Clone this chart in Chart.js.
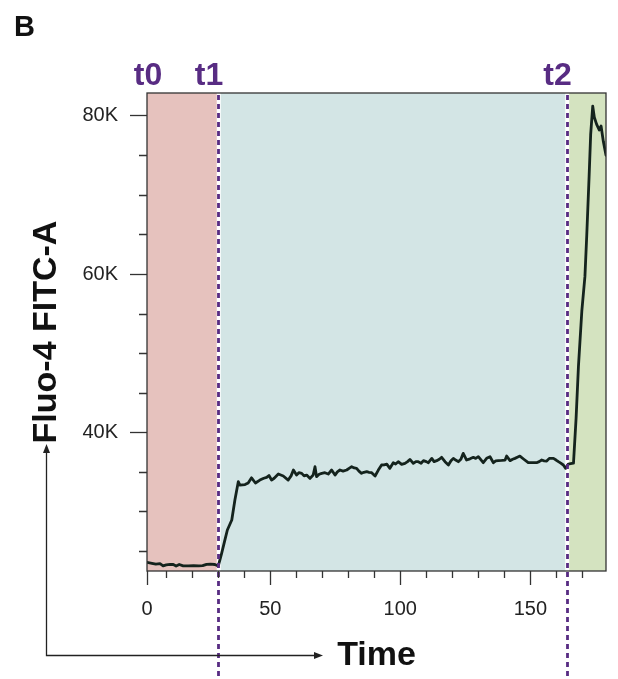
<!DOCTYPE html>
<html>
<head>
<meta charset="utf-8">
<script src="https://cdn.jsdelivr.net/npm/chart.js@4.4.1/dist/chart.umd.min.js"></script>
<style>
  html, body { margin: 0; padding: 0; background: #ffffff; }
  canvas { display: block; }
</style>
</head>
<body>
<canvas id="kinetics" width="618" height="679"></canvas>
<script>
// Acquisition time (s) of each reading
const timeSec = [
  2.6, 4.5, 6.0, 7.6, 8.8, 10.0, 11.5, 12.7, 13.8, 15.0, 16.5, 18.5, 20.5, 22.5, 24.0, 25.5, 27.0, 28.7, 30.0,
  31.3, 32.4, 33.5, 35.2, 36.4, 37.7, 38.3, 40.3,
  41.5, 42.8, 44.3, 46.0, 47.5, 48.6, 49.5, 50.5, 51.5, 53.1, 55.0, 56.9, 58.0, 58.9, 60.1, 61.0, 62.1, 63.0,
  64.0, 65.3, 66.5, 67.2, 67.8, 68.8, 69.8, 71.0, 72.3, 73.6, 74.9, 75.8, 76.8, 78.0, 79.4, 80.3, 81.3, 82.3,
  83.2, 84.1, 85.1, 86.0, 87.1, 88.0, 89.0, 90.3, 91.5, 92.8, 93.8, 94.8, 96.0, 97.3, 98.2, 99.2, 100.5, 101.8,
  102.8, 103.7, 105.0, 106.0, 106.9, 108.0, 108.9, 110.0, 110.8, 112.1, 113.0, 114.0, 115.0, 115.9, 117.2,
  118.5, 119.5, 120.4, 121.3, 122.3, 123.3, 124.2, 125.5, 126.8, 128.1, 129.0, 130.0, 131.9, 133.2, 134.5,
  135.8, 136.7, 137.7, 139.0, 140.3, 140.9, 142.2, 143.2, 144.1, 145.0, 146.0, 147.5, 149.2, 150.8, 152.4,
  153.4, 154.4, 155.3, 156.3, 157.3, 158.9, 159.9, 160.8, 161.7, 162.7, 163.6, 164.6, 165.5, 166.6,
  167.6, 168.5, 169.8, 171.0, 171.7, 172.6, 173.2, 174.0, 174.6, 175.5, 176.5, 177.2, 178.1, 179.1
];

// Fluo-4 FITC-A signal at each reading
const fluo4FitcA = [
  23580, 23450, 23350, 23400, 23120, 23250, 23320, 23300, 23100, 23300, 23120, 23120, 23150, 23120, 23150, 23320, 23350, 23300, 23100,
  24710, 26200, 27660, 28920, 31450, 33760, 33340, 33400,
  33600, 34250, 33600, 33970, 34200, 34310, 34550, 33970, 34200, 34730, 34480, 33970, 34500, 35240, 34600, 34900, 34820, 34500,
  34600, 34180, 34600, 35660, 34400, 34700, 34820, 34900, 34730, 35240, 34600, 35000, 35240, 35100, 35240, 35450, 35660, 35500,
  35450, 35100, 34820, 34950, 35030, 34950, 34900, 34480, 35200, 35870, 35900, 35990, 35450, 36160, 36000, 36290, 35950, 36080,
  36300, 36580, 36080, 36300, 36290, 36100, 36420, 36300, 36160, 36710, 36300, 36420, 36600, 36840, 36290,
  35870, 36400, 36710, 36500, 36290, 36600, 37340, 36500, 36650, 36840, 36700, 36920, 36160, 36710, 36920,
  36160, 36400, 36420, 36450, 36500, 37000, 36420, 36600, 36710, 36850, 37000, 36600, 36160, 36160, 36160,
  36300, 36500, 36400, 36370, 36710, 36710, 36500, 36290, 36100, 35870, 35450, 35990, 36050, 36100,
  41800, 48300, 55300, 59700, 64900, 72300, 77600, 81200, 79800, 78900, 78200, 78700, 76700, 75000
];

// Experiment phases: name, start time (s), shading
const phaseNames = ['t0', 't1', 't2'];
const phaseStartSec = [0, 30, 164];
const phaseFill = ['#e6c2be', '#d3e5e5', '#d4e3c0'];

// Axis ticks
const xMajorTicks = [0, 50, 100, 150];
const xMinorTicks = [10, 20, 30, 40, 60, 70, 80, 90, 110, 120, 130, 140, 160, 170];
const yMajorTicks = [40000, 60000, 80000];
const yMinorTicks = [25000, 30000, 35000, 45000, 50000, 55000, 65000, 70000, 75000];

const X_MIN = 2.6, X_MAX = 179.1;
const Y_MIN = 22480, Y_MAX = 82870;

const INK = '#222222';
const PHASE_INK = '#582c83';
const FONT = '"Liberation Sans", Arial, Helvetica, sans-serif';

const points = timeSec.map((t, i) => ({ x: t, y: fluo4FitcA[i] }));

// Shaded phase bands and the dotted boundary markers
const phaseBands = {
  id: 'phaseBands',
  beforeDatasetsDraw(chart) {
    const { ctx, chartArea: a, scales: { x } } = chart;
    ctx.save();
    phaseStartSec.forEach((start, i) => {
      const x0 = Math.max(a.left, x.getPixelForValue(start));
      const x1 = i + 1 < phaseStartSec.length ? x.getPixelForValue(phaseStartSec[i + 1]) : a.right;
      ctx.fillStyle = phaseFill[i];
      ctx.fillRect(x0, a.top, x1 - x0, a.bottom - a.top);
    });
    // white gap behind each boundary
    phaseStartSec.slice(1).forEach(start => {
      const px = x.getPixelForValue(start);
      ctx.fillStyle = '#ffffff';
      ctx.fillRect(px - 1.5, a.top, 4, a.bottom - a.top);
    });
    ctx.restore();
  },
  afterDatasetsDraw(chart) {
    const { ctx, chartArea: a, scales: { x } } = chart;
    ctx.save();
    ctx.strokeStyle = PHASE_INK;
    ctx.lineWidth = 2.8;
    ctx.setLineDash([5, 4]);
    phaseStartSec.slice(1).forEach(start => {
      const px = Math.round(x.getPixelForValue(start)) + 0.5;
      ctx.beginPath();
      ctx.moveTo(px, a.top + 2);
      ctx.lineTo(px, chart.height);
      ctx.stroke();
    });
    ctx.setLineDash([]);
    // plot frame
    ctx.strokeStyle = '#333333';
    ctx.lineWidth = 1.3;
    ctx.strokeRect(a.left, a.top, a.right - a.left, a.bottom - a.top);
    ctx.restore();
  }
};

// Minor ticks, phase labels, panel letter and axis arrows
const annotations = {
  id: 'annotations',
  afterDraw(chart) {
    const { ctx, chartArea: a, scales: { x, y } } = chart;
    ctx.save();
    ctx.strokeStyle = '#333333';
    ctx.lineWidth = 1.3;
    ctx.beginPath();
    xMinorTicks.forEach(v => {
      const px = Math.round(x.getPixelForValue(v)) + 0.5;
      ctx.moveTo(px, a.bottom);
      ctx.lineTo(px, a.bottom + 7);
    });
    yMinorTicks.forEach(v => {
      const py = Math.round(y.getPixelForValue(v)) + 0.5;
      ctx.moveTo(a.left, py);
      ctx.lineTo(a.left - 8, py);
    });
    ctx.stroke();

    // phase labels
    ctx.fillStyle = PHASE_INK;
    ctx.font = 'bold 32px ' + FONT;
    ctx.textBaseline = 'alphabetic';
    phaseNames.forEach((name, i) => {
      if (i === 0) {
        ctx.textAlign = 'center';
        ctx.fillText(name, a.left + 1, 85);
      } else {
        ctx.textAlign = 'right';
        ctx.fillText(name, x.getPixelForValue(phaseStartSec[i]) + 5, 85);
      }
    });

    // panel letter
    ctx.fillStyle = '#111111';
    ctx.font = 'bold 29px ' + FONT;
    ctx.textAlign = 'left';
    ctx.fillText('B', 14, 36);

    // axis direction arrows
    ctx.strokeStyle = INK;
    ctx.fillStyle = INK;
    ctx.lineWidth = 1.3;
    ctx.beginPath();
    ctx.moveTo(46.5, 452);
    ctx.lineTo(46.5, 655.5);
    ctx.lineTo(315, 655.5);
    ctx.stroke();
    ctx.beginPath();
    ctx.moveTo(46.5, 444);
    ctx.lineTo(43, 453);
    ctx.lineTo(50, 453);
    ctx.closePath();
    ctx.fill();
    ctx.beginPath();
    ctx.moveTo(323, 655.5);
    ctx.lineTo(314, 652);
    ctx.lineTo(314, 659);
    ctx.closePath();
    ctx.fill();
    ctx.restore();
  }
};

new Chart(document.getElementById('kinetics'), {
  type: 'line',
  data: {
    datasets: [{
      data: points,
      borderColor: '#14231d',
      borderWidth: 2.8,
      borderJoinStyle: 'round',
      borderCapStyle: 'round',
      pointRadius: 0,
      tension: 0,
      fill: false
    }]
  },
  options: {
    responsive: false,
    animation: false,
    devicePixelRatio: 1,
    layout: { padding: { top: 93, right: 12, left: 0, bottom: 0 } },
    plugins: { legend: { display: false }, tooltip: { enabled: false } },
    scales: {
      x: {
        type: 'linear',
        min: X_MIN,
        max: X_MAX,
        afterFit(scale) { scale.height = 108; },
        afterBuildTicks(scale) {
          scale.ticks = xMajorTicks.map(v => ({ value: Math.max(v, X_MIN) }));
        },
        ticks: {
          callback: (v, i) => String(xMajorTicks[i]),
          font: { family: FONT, size: 20 },
          color: INK,
          padding: 12,
          maxRotation: 0,
          autoSkip: false
        },
        grid: { drawOnChartArea: false, tickLength: 14, tickColor: '#333333', tickWidth: 1.3 },
        border: { display: false },
        title: {
          display: true,
          text: 'Time',
          font: { family: FONT, size: 34, weight: 'bold' },
          color: '#111111',
          padding: { top: 0, bottom: 3 }
        }
      },
      y: {
        type: 'linear',
        min: Y_MIN,
        max: Y_MAX,
        afterFit(scale) { scale.width = 147; },
        afterBuildTicks(scale) {
          scale.ticks = yMajorTicks.map(v => ({ value: v }));
        },
        ticks: {
          callback: v => (v / 1000) + 'K',
          font: { family: FONT, size: 20 },
          color: INK,
          padding: 12
        },
        grid: { drawOnChartArea: false, tickLength: 17, tickColor: '#333333', tickWidth: 1.3 },
        border: { display: false },
        title: {
          display: true,
          text: 'Fluo-4 FITC-A',
          font: { family: FONT, size: 34, weight: 'bold' },
          color: '#111111',
          padding: { top: 26, bottom: 0 }
        }
      }
    }
  },
  plugins: [phaseBands, annotations]
});
</script>
</body>
</html>
